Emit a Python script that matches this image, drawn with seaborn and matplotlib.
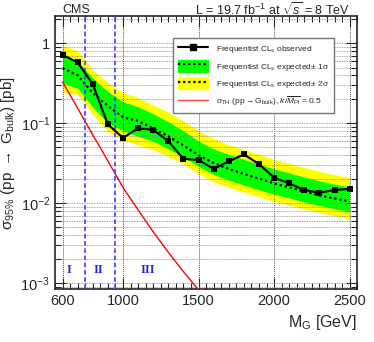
import matplotlib
matplotlib.use("Agg")
import matplotlib.pyplot as plt
from matplotlib.lines import Line2D
from matplotlib.patches import Patch
from matplotlib.ticker import FixedLocator, FixedFormatter, MultipleLocator, LogLocator, NullFormatter
import numpy as np
import pandas as pd
import seaborn as sns

# data (cross sections in pb)
mass = [600, 700, 800, 900, 1000, 1100, 1200, 1300, 1400, 1500,
        1600, 1700, 1800, 1900, 2000, 2100, 2200, 2300, 2400, 2500]
observed = [0.72, 0.58, 0.31, 0.097, 0.066, 0.087, 0.083, 0.060, 0.036, 0.035,
            0.027, 0.0335, 0.041, 0.031, 0.021, 0.0178, 0.0147, 0.0136, 0.0147, 0.0152]
expected = [0.49, 0.40, 0.24, 0.165, 0.12, 0.107, 0.087, 0.069, 0.053, 0.040,
            0.032, 0.027, 0.0234, 0.0204, 0.0178, 0.0158, 0.0141, 0.0126, 0.0115, 0.0105]
green_lo = [0.32, 0.275, 0.16, 0.10, 0.081, 0.069, 0.060, 0.048, 0.038, 0.029,
            0.023, 0.0195, 0.0170, 0.0148, 0.0130, 0.0117, 0.0104, 0.0094, 0.0086, 0.0078]
green_hi = [0.70, 0.60, 0.37, 0.25, 0.186, 0.162, 0.132, 0.105, 0.081, 0.060,
            0.048, 0.041, 0.0355, 0.031, 0.0270, 0.0240, 0.0214, 0.0191, 0.0174, 0.0160]
yellow_lo = [0.245, 0.23, 0.13, 0.079, 0.062, 0.054, 0.047, 0.039, 0.031, 0.0235,
             0.0187, 0.0158, 0.0138, 0.0121, 0.0106, 0.0095, 0.0085, 0.0077, 0.0070, 0.0063]
yellow_hi = [0.95, 0.81, 0.47, 0.32, 0.245, 0.21, 0.17, 0.138, 0.107, 0.081,
             0.065, 0.054, 0.047, 0.041, 0.0355, 0.0316, 0.0282, 0.0251, 0.0229, 0.0209]
th_mass = [600, 700, 800, 900, 1000, 1100, 1200, 1300, 1400, 1500, 1600]
th_xsec = [0.33, 0.155, 0.072, 0.034, 0.0158, 0.0083, 0.0044, 0.00245, 0.0014, 0.00083, 0.00049]
region_lines = [750, 950]
region_names = ["I", "II", "III"]
region_x = [642, 836, 1163]

df = pd.DataFrame({"mass": mass, "observed": observed, "expected": expected})
df_th = pd.DataFrame({"mass": th_mass, "xsec": th_xsec})

sns.set_style("ticks")
plt.rcParams["font.family"] = ["Liberation Sans", "DejaVu Sans"]
plt.rcParams["mathtext.fontset"] = "custom"
plt.rcParams["mathtext.rm"] = "Liberation Sans"
plt.rcParams["mathtext.it"] = "Liberation Sans:italic"
plt.rcParams["mathtext.bf"] = "Liberation Sans:bold"

fig = plt.figure(figsize=(3.74, 3.42), dpi=100)
ax = fig.add_axes([0.147, 0.155, 0.808, 0.798])

ax.fill_between(mass, yellow_lo, yellow_hi, color="#ffff00", lw=0, zorder=1)
ax.fill_between(mass, green_lo, green_hi, color="#00ff00", lw=0, zorder=1.1)

dots = (0, (1, 1.3))
sns.lineplot(data=df, x="mass", y="expected", ax=ax, color="black", lw=1.6,
             linestyle=dots, zorder=3)
sns.lineplot(data=df_th, x="mass", y="xsec", ax=ax, color="#ff0000", lw=1, zorder=3)
sns.lineplot(data=df, x="mass", y="observed", ax=ax, color="black", lw=1.5,
             marker="s", markersize=5, markeredgewidth=0, zorder=4)

for xv in region_lines:
    ax.axvline(xv, color="#4a4aff", lw=1.3, ls=(0, (2.5, 1.5)), zorder=3)
for name, xv in zip(region_names, region_x):
    ax.text(xv, 0.00148, name, color="#2222dd", ha="center", va="center",
            family="Liberation Serif", fontsize=9, fontweight="bold", zorder=5)

ax.set_yscale("log")
ax.set_xlim(550, 2550)
ax.set_ylim(8.5e-4, 2.2)

ax.xaxis.set_major_locator(FixedLocator([600, 1000, 1500, 2000, 2500]))
ax.xaxis.set_minor_locator(MultipleLocator(50))
ax.yaxis.set_major_locator(FixedLocator([1e-3, 1e-2, 1e-1, 1]))
ax.yaxis.set_major_formatter(FixedFormatter(["$10^{-3}$", "$10^{-2}$", "$10^{-1}$", "1"]))
ax.yaxis.set_minor_locator(LogLocator(base=10, subs=np.arange(2, 10)))
ax.yaxis.set_minor_formatter(NullFormatter())

ax.tick_params(which="both", direction="in", top=True, right=True, labelsize=10.5)
ax.tick_params(which="major", length=8, width=0.8)
ax.tick_params(which="minor", length=4, width=0.8)
for s in ax.spines.values():
    s.set_linewidth(1.2)

ax.set_axisbelow(False)
ax.grid(which="both", axis="y", color="#888888", ls=(0, (1, 1)), lw=0.6)
ax.grid(which="major", axis="x", color="#555555", ls=(0, (1, 1)), lw=0.7)

ax.set_xlabel("M$_\\mathrm{G}$ [GeV]", fontsize=11.5, loc="right")
ax.set_ylabel("σ$_{95\\%}$ (pp $\\rightarrow$ G$_\\mathrm{bulk}$) [pb]", fontsize=11)
ax.yaxis.set_label_coords(-0.125, 0.50)

fig.text(0.168, 0.972, "CMS", fontsize=9, ha="left", va="center")
fig.text(0.937, 0.972, "L = 19.7 fb$^{-1}$ at $\\sqrt{s}$ = 8 TeV", fontsize=9, ha="right", va="center")

h_obs = Line2D([], [], color="black", lw=1.5, marker="s", markersize=5)
h_g = (Patch(color="#00ff00"), Line2D([], [], color="black", lw=1.6, ls=dots))
h_y = (Patch(color="#ffff00"), Line2D([], [], color="black", lw=1.6, ls=dots))
h_th = Line2D([], [], color="#ff4444", lw=1)
labels = ["Frequentist CL$_\\mathrm{s}$ observed",
          "Frequentist CL$_\\mathrm{s}$ expected$\\pm$ 1σ",
          "Frequentist CL$_\\mathrm{s}$ expected$\\pm$ 2σ",
          "σ$_\\mathrm{TH}$ (pp$\\rightarrow$G$_\\mathrm{bulk}$), $k/\\overline{M_\\mathrm{Pl}}$ = 0.5"]
leg = ax.legend([h_obs, h_g, h_y, h_th], labels, loc="upper left",
                bbox_to_anchor=(0.378, 0.935), fontsize=6.0, frameon=True,
                fancybox=False, edgecolor="#777777", framealpha=1,
                handlelength=3.5, handleheight=1.7, labelspacing=0.6,
                borderpad=0.6, handletextpad=1.0)
leg.get_frame().set_linewidth(1.0)
leg.set_zorder(6)

fig.savefig("out.png", dpi=100)
